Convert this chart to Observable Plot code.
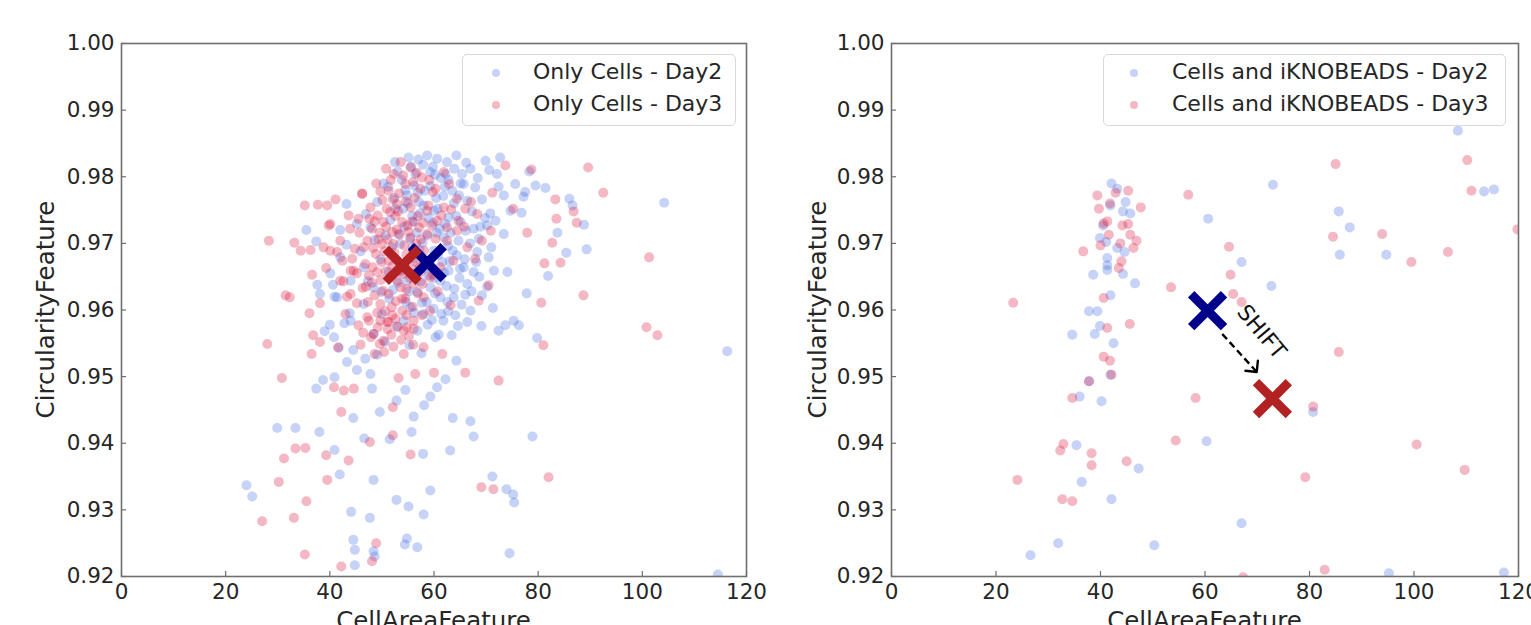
<!DOCTYPE html>
<html>
<head>
<meta charset="utf-8">
<script src="https://cdn.jsdelivr.net/npm/d3@7"></script>
<script src="https://cdn.jsdelivr.net/npm/@observablehq/plot@0.6"></script>
<style>
  html, body { margin: 0; padding: 0; background: #ffffff; }
  #wrap { position: relative; width: 1531px; height: 625px; overflow: hidden; background: #fff;
          font-family: "DejaVu Sans", sans-serif; color: #262626; }
  .panel { position: absolute; top: 0; }
  .legend { position: absolute; box-sizing: border-box; border: 1px solid #d9d9d9; border-radius: 5px;
            background: rgba(255,255,255,0.85); font-size: 22px; }
  .legend .row { position: absolute; left: 0; white-space: nowrap; }
  .legend .sw { position: absolute; width: 8px; height: 8px; border-radius: 50%; }
  #overlay { position: absolute; left: 0; top: 0; pointer-events: none; }
</style>
</head>
<body>
<div id="wrap"></div>
<script>
// ---------------- data ----------------
const xTicks = [0, 20, 40, 60, 80, 100, 120];
const yTicks = [0.92, 0.93, 0.94, 0.95, 0.96, 0.97, 0.98, 0.99, 1.00];
const xTitle = "CellAreaFeature";
const yTitle = "CircularityFeature";

const leftLegend = ["Only Cells - Day2", "Only Cells - Day3"];
const rightLegend = ["Cells and iKNOBEADS - Day2", "Cells and iKNOBEADS - Day3"];
const seriesColors = ["#4169e1", "#dc143c"];
const meanColors = ["#00008b", "#b22222"];

// Only Cells - Day2 : [CellAreaFeature, CircularityFeature]
const onlyCellsDay2 = [
  [43.2,0.9759],[35.5,0.9720],[42.0,0.9720],[37.4,0.9703],[43.2,0.9698],[42.0,0.9679],[40.1,0.9655],[40.6,0.9638],
  [37.6,0.9638],[38.1,0.9624],[40.9,0.9620],[43.8,0.9595],[50.3,0.9790],[39.0,0.9568],[40.0,0.9578],[40.8,0.9559],
  [41.7,0.9543],[42.8,0.9580],[44.5,0.9540],[46.8,0.9527],[49.1,0.9533],[43.3,0.9522],[45.2,0.9510],[38.7,0.9495],
  [40.9,0.9499],[37.4,0.9482],[48.1,0.9482],[47.8,0.9504],[52.8,0.9464],[54.5,0.9480],[56.1,0.9440],[55.7,0.9417],
  [49.6,0.9447],[44.5,0.9438],[29.9,0.9423],[33.4,0.9423],[38.0,0.9417],[40.9,0.9390],[24.0,0.9337],[25.1,0.9320],
  [41.9,0.9353],[48.4,0.9345],[52.8,0.9315],[55.1,0.9305],[58.0,0.9293],[59.3,0.9329],[44.1,0.9297],[47.7,0.9288],
  [44.5,0.9255],[44.8,0.9240],[48.4,0.9238],[48.6,0.9230],[44.8,0.9217],[54.4,0.9248],[54.8,0.9257],[56.8,0.9244],
  [60.6,0.9484],[59.3,0.9470],[60.3,0.9559],[63.1,0.9389],
  [72.4,0.9785],[70.8,0.9745],[71.0,0.9694],[79.5,0.9787],[77.2,0.9770],[86.0,0.9767],[86.6,0.9757],[89.3,0.9691],
  [85.4,0.9686],[104.2,0.9761],[116.3,0.9538],[114.5,0.9203],[78.9,0.9410],[73.9,0.9331],[75.2,0.9323],[75.4,0.9311],
  [74.5,0.9235],[70.2,0.9635],[67.6,0.9410],[67.0,0.9433],[71.2,0.9350],[67.6,0.9722],[68.7,0.9650],
  [55.1,0.9829],[58.7,0.9832],[60.6,0.9827],[62.5,0.9822],[64.3,0.9832],[67.0,0.9812],[69.9,0.9824],[72.7,0.9829],
  [72.1,0.9804],[75.6,0.9789],[77.5,0.9777],[67.9,0.9784],[69.2,0.9766],[73.4,0.9772],[74.7,0.9749],[71.8,0.9734],
  [70.2,0.9727],[73.4,0.9714],[68.6,0.9707],[70.5,0.9679],[68.3,0.9687],[65.7,0.9664],[67.6,0.9657],[71.5,0.9659],
  [66.4,0.9639],[69.2,0.9622],[63.8,0.9619],[67.0,0.9599],[64.1,0.9592],[61.8,0.9584],[66.4,0.9582],[73.7,0.9577],
  [75.3,0.9584],[76.3,0.9577],[72.4,0.9569],[49.1,0.9762],[47.8,0.9724],[56.4,0.9804],[59.3,0.9807],[62.2,0.9804],
  [65.4,0.9804],[65.7,0.9789],[63.5,0.9779],[66.4,0.9764],[54.8,0.9772],[57.1,0.9762],[60.0,0.9749],[62.8,0.9739],
  [65.1,0.9732],[56.1,0.9732],[53.2,0.9714],[58.7,0.9712],[61.9,0.9709],[64.7,0.9704],[64.4,0.9682],[61.2,0.9644],
  [59.3,0.9634],[56.8,0.9627],[61.2,0.9619],[55.5,0.9604],[58.0,0.9594],[56.8,0.9569],[54.2,0.9584],[50.0,0.9594],
  [46.5,0.9609],[44.0,0.9584],[48.4,0.9564],[51.3,0.9657],[48.4,0.9634],[46.5,0.9664],[44.0,0.9644],[41.4,0.9619],
  [45.2,0.9729],[60.0,0.9689],[57.4,0.9682],[62.8,0.9659],[54.8,0.9644],
  [52.5,0.9822],[57.0,0.9826],[59.8,0.9815],[61.3,0.9798],[63.9,0.9812],[66.2,0.9821],[68.4,0.9798],[70.6,0.9810],
  [53.8,0.9795],[56.2,0.9787],[58.2,0.9779],[60.4,0.9768],[62.1,0.9785],[64.8,0.9772],[67.3,0.9748],[69.8,0.9738],
  [52.4,0.9768],[54.1,0.9752],[55.8,0.9741],[58.9,0.9738],[61.1,0.9722],[63.2,0.9716],[66.1,0.9719],[68.9,0.9725],
  [51.6,0.9735],[53.5,0.9699],[55.9,0.9694],[57.8,0.9701],[59.5,0.9677],[61.6,0.9672],[63.6,0.9689],[65.9,0.9676],
  [52.8,0.9676],[54.6,0.9668],[56.3,0.9655],[58.3,0.9662],[60.1,0.9648],[62.4,0.9636],[64.9,0.9648],[67.2,0.9628],
  [53.1,0.9641],[55.2,0.9628],[57.7,0.9611],[59.9,0.9602],[62.7,0.9598],[65.3,0.9608],[51.4,0.9617],[52.9,0.9575],
  [58.8,0.9578],[60.9,0.9563],[63.4,0.9562],[50.6,0.9552],[55.3,0.9547],[57.6,0.9535],[46.9,0.9744],[48.6,0.9705],
  [45.9,0.9688],[49.7,0.9676],[47.3,0.9643],[49.9,0.9627],[76.8,0.9746],[78.3,0.9808],[81.4,0.9783],[83.7,0.9716],
  [88.8,0.9728],[81.9,0.9651],[74.1,0.9657],[77.8,0.9625],[71.3,0.9603],[69.1,0.9576],[79.8,0.9558],[64.3,0.9524],
  [62.2,0.9496],[58.1,0.9457],[63.6,0.9438],[51.5,0.9406],[46.6,0.9407],[57.9,0.9384],
  [53.0,0.9808],[55.6,0.9815],[57.9,0.9818],[60.2,0.9803],[62.8,0.9795],[65.1,0.9790],[54.5,0.9780],[56.9,0.9776],
  [59.3,0.9786],[61.8,0.9771],[63.8,0.9760],[58.0,0.9757],[60.7,0.9752],[55.0,0.9760],[57.3,0.9745],[59.8,0.9731],
  [62.2,0.9729],[64.3,0.9741],[54.3,0.9725],[56.7,0.9716],[60.5,0.9716],[62.7,0.9696],[55.4,0.9707],[57.2,0.9690],
  [60.8,0.9683],[63.0,0.9673],[58.1,0.9674],[56.1,0.9677],[59.0,0.9652],[61.9,0.9656],[63.9,0.9632],[57.5,0.9643],
  [60.2,0.9625],[58.6,0.9612],[56.2,0.9596],[61.4,0.9594],[59.6,0.9585],[54.6,0.9612],[52.1,0.9630],[53.7,0.9658],
  [51.9,0.9694],[50.7,0.9712],[52.6,0.9752],[51.2,0.9785],[66.9,0.9700],[65.0,0.9662],[68.1,0.9672],[66.0,0.9623],
  [62.6,0.9612],[64.6,0.9576]
];

// Only Cells - Day3
const onlyCellsDay3 = [
  [28.3,0.9704],[35.2,0.9757],[39.5,0.9757],[39.8,0.9727],[34.4,0.9689],[36.3,0.9690],[38.8,0.9694],[43.6,0.9742],
  [45.5,0.9737],[46.2,0.9775],[42.4,0.9674],[36.6,0.9653],[32.3,0.9619],[38.1,0.9610],[36.1,0.9595],[44.0,0.9659],
  [42.6,0.9643],[28.0,0.9549],[36.8,0.9562],[36.5,0.9534],[38.1,0.9552],[41.6,0.9544],[30.8,0.9498],[40.8,0.9484],
  [42.7,0.9479],[44.6,0.9482],[31.2,0.9377],[33.4,0.9392],[35.3,0.9393],[39.3,0.9382],[43.6,0.9374],[47.7,0.9402],
  [52.1,0.9412],[55.5,0.9383],[30.2,0.9342],[39.5,0.9345],[35.5,0.9313],[27.0,0.9283],[33.1,0.9288],[35.2,0.9233],
  [42.2,0.9215],[48.1,0.9223],[48.9,0.9250],[52.1,0.9454],[53.2,0.9498],[48.6,0.9534],[54.2,0.9569],[56.0,0.9548],
  [58.0,0.9544],[60.0,0.9506],[56.4,0.9504],[61.6,0.9534],[43.3,0.9620],[45.2,0.9610],[47.5,0.9584],[49.7,0.9584],
  [51.0,0.9582],[48.4,0.9564],[50.3,0.9554],[56.1,0.9572],[54.2,0.9534],[52.0,0.9592],[42.2,0.9447],
  [73.7,0.9817],[78.7,0.9811],[83.3,0.9766],[86.8,0.9748],[87.4,0.9731],[89.6,0.9814],[92.5,0.9776],[83.5,0.9737],
  [82.7,0.9701],[84.3,0.9671],[88.7,0.9622],[80.6,0.9611],[81.0,0.9547],[101.3,0.9679],[100.8,0.9574],[102.9,0.9562],
  [82.0,0.9349],[72.4,0.9494],[69.1,0.9334],[71.4,0.9331],[66.0,0.9506],[81.2,0.9670],
  [52.3,0.9804],[55.5,0.9814],[54.5,0.9789],[57.7,0.9799],[61.9,0.9807],[51.3,0.9779],[46.2,0.9774],[52.9,0.9759],
  [51.6,0.9747],[55.5,0.9754],[58.7,0.9749],[61.9,0.9754],[64.4,0.9767],[66.0,0.9752],[68.3,0.9744],[50.3,0.9732],
  [53.9,0.9732],[57.1,0.9724],[60.6,0.9734],[52.0,0.9717],[55.5,0.9709],[58.7,0.9714],[48.1,0.9722],[47.2,0.9704],
  [50.0,0.9699],[62.5,0.9724],[48.8,0.9684],[51.3,0.9674],[49.1,0.9657],[46.8,0.9669],[57.4,0.9657],[56.1,0.9639],
  [53.6,0.9634],[51.3,0.9624],[54.5,0.9617],[58.0,0.9619],[49.7,0.9609],[53.9,0.9599],[57.7,0.9592],[47.2,0.9589],
  [51.3,0.9582],[54.8,0.9574],[45.5,0.9577],[43.0,0.9594],[44.0,0.9624],[42.0,0.9644],[42.0,0.9704],[44.6,0.9659],
  [44.3,0.9677],[64.7,0.9734],[64.4,0.9719],[66.4,0.9694],[69.2,0.9704],[62.5,0.9704],[61.2,0.9664],[59.3,0.9649],
  [70.5,0.9637],[67.9,0.9677],[47.8,0.9754],[40.1,0.9729],[40.1,0.9689],
  [50.8,0.9812],[53.6,0.9822],[56.7,0.9806],[59.1,0.9795],[48.9,0.9790],[50.1,0.9765],[53.3,0.9775],[56.3,0.9768],
  [59.8,0.9777],[62.9,0.9789],[49.2,0.9742],[52.6,0.9741],[54.9,0.9727],[56.9,0.9741],[59.6,0.9727],[61.4,0.9742],
  [63.3,0.9751],[49.6,0.9716],[51.1,0.9706],[53.4,0.9713],[56.6,0.9699],[58.1,0.9689],[60.3,0.9707],[48.3,0.9693],
  [50.5,0.9688],[52.4,0.9686],[54.7,0.9683],[56.5,0.9672],[59.1,0.9668],[47.5,0.9652],[49.8,0.9645],[51.9,0.9652],
  [53.3,0.9659],[55.4,0.9648],[57.8,0.9639],[46.3,0.9633],[48.6,0.9622],[52.7,0.9613],[55.9,0.9605],[50.6,0.9598],
  [52.6,0.9587],[56.1,0.9584],[46.4,0.9566],[49.2,0.9574],[51.8,0.9563],[53.7,0.9555],[45.9,0.9548],[50.4,0.9537],
  [44.8,0.9692],[45.7,0.9716],[43.9,0.9722],[41.4,0.9687],[39.3,0.9663],[46.9,0.9635],[37.7,0.9758],[41.1,0.9766],
  [33.2,0.9701],[31.5,0.9622],[65.8,0.9725],[67.1,0.9762],[70.9,0.9719],[63.7,0.9674],[60.7,0.9628],[63.2,0.9607],
  [68.6,0.9614],[75.2,0.9752],[77.9,0.9716],[71.2,0.9776],
  [51.7,0.9795],[54.1,0.9802],[56.0,0.9792],[49.7,0.9778],[52.1,0.9766],[54.6,0.9763],[57.4,0.9782],[50.9,0.9752],
  [53.1,0.9748],[55.8,0.9733],[48.6,0.9733],[50.8,0.9725],[52.9,0.9721],[55.1,0.9718],[57.9,0.9731],[49.3,0.9706],
  [52.2,0.9699],[54.3,0.9697],[56.0,0.9688],[57.5,0.9706],[49.9,0.9672],[52.0,0.9666],[54.1,0.9654],[55.9,0.9661],
  [57.3,0.9665],[48.2,0.9664],[50.7,0.9658],[52.9,0.9644],[54.7,0.9631],[56.9,0.9625],[48.1,0.9641],[50.2,0.9629],
  [51.9,0.9604],[53.9,0.9617],[47.3,0.9612],[49.1,0.9596],[54.7,0.9592],[51.1,0.9571],[53.0,0.9575],[55.2,0.9561],
  [47.9,0.9559],[49.6,0.9549],[52.2,0.9545],[45.2,0.9655],[46.5,0.9694],[47.6,0.9737],[58.9,0.9757],[60.3,0.9782],
  [59.8,0.9653],[59.2,0.9599]
];

// Cells and iKNOBEADS - Day2
const beadsDay2 = [
  [42.1,0.9790],[43.2,0.9782],[44.8,0.9762],[41.9,0.9757],[44.3,0.9748],[45.7,0.9745],[40.5,0.9727],[39.9,0.9708],
  [41.1,0.9702],[43.2,0.9693],[44.6,0.9687],[41.3,0.9678],[41.3,0.9667],[41.3,0.9660],[38.6,0.9653],[44.3,0.9654],
  [46.6,0.9640],[41.9,0.9622],[37.8,0.9598],[39.4,0.9598],[39.9,0.9576],[38.9,0.9564],[34.6,0.9563],[42.5,0.9550],
  [37.8,0.9493],[36.0,0.9470],[40.2,0.9463],[41.9,0.9503],[35.4,0.9397],[36.4,0.9342],[47.3,0.9362],[42.1,0.9316],
  [31.9,0.9250],[26.6,0.9232],[50.3,0.9247],[108.4,0.9869],[73.0,0.9788],[60.6,0.9737],[85.6,0.9748],[87.7,0.9724],
  [85.8,0.9683],[94.7,0.9683],[113.4,0.9778],[115.3,0.9781],[67.0,0.9672],[72.7,0.9636],[80.7,0.9447],[60.3,0.9403],
  [67.0,0.9280],[95.2,0.9205],[117.2,0.9206]
];

// Cells and iKNOBEADS - Day3
const beadsDay3 = [
  [39.4,0.9772],[42.9,0.9776],[45.3,0.9779],[41.8,0.9760],[39.7,0.9752],[47.7,0.9754],[41.3,0.9733],[40.6,0.9730],
  [44.2,0.9727],[45.3,0.9729],[41.6,0.9713],[40.0,0.9697],[45.7,0.9713],[46.9,0.9704],[43.8,0.9700],[46.3,0.9693],
  [36.7,0.9688],[44.0,0.9673],[43.5,0.9663],[23.3,0.9611],[40.6,0.9618],[41.3,0.9573],[45.6,0.9579],[40.6,0.9530],
  [41.8,0.9524],[37.8,0.9493],[42.1,0.9503],[34.6,0.9468],[32.9,0.9399],[32.3,0.9389],[38.3,0.9385],[38.3,0.9367],
  [45.0,0.9373],[24.1,0.9345],[32.7,0.9316],[34.6,0.9313],[54.4,0.9404],[53.5,0.9634],[85.0,0.9819],[110.2,0.9825],
  [111.0,0.9779],[56.8,0.9773],[84.5,0.9710],[93.9,0.9714],[106.5,0.9687],[99.5,0.9672],[64.6,0.9695],[64.9,0.9653],
  [65.4,0.9624],[67.0,0.9612],[85.6,0.9537],[119.8,0.9721],[58.2,0.9468],[80.7,0.9455],[100.5,0.9398],[109.7,0.9360],
  [79.2,0.9349],[82.9,0.9210],[67.3,0.9199]
];

// mean markers [x, y] : Day2 then Day3
const onlyCellsMeans = [[58.7, 0.9671], [53.9, 0.9667]];
const beadsMeans = [[60.5, 0.9599], [72.9, 0.9467]];

// shift annotation (right panel)
const shiftArrow = [[63.3, 0.9564], [69.9, 0.9507]];   // start, tip
const shiftLabel = [{x: 70.8, y: 0.9567, text: "SHIFT"}];

// ---------------- drawing ----------------
const H = 625, MT = 43, MB = 49;
const toObj = a => a.map(([x, y]) => ({x, y}));

function panel({width, marginLeft, marginRight, day2, day3, means, extras = []}) {
  const plotW = width - marginLeft - marginRight;
  const plotH = H - MT - MB;
  return Plot.plot({
    width, height: H, marginTop: MT, marginBottom: MB, marginLeft, marginRight,
    style: {fontFamily: '"DejaVu Sans", sans-serif', fontSize: "21.5px", color: "#262626",
            background: "transparent", overflow: "visible"},
    x: {domain: [0, 120]},
    y: {domain: [0.92, 1.0]},
    marks: [
      Plot.dot(toObj(day2), {x: "x", y: "y", r: 5, fill: seriesColors[0], fillOpacity: 0.3, clip: true}),
      Plot.dot(toObj(day3), {x: "x", y: "y", r: 5, fill: seriesColors[1], fillOpacity: 0.3, clip: true}),
      Plot.frame({stroke: "#6f6f6f", strokeWidth: 1.6}),
      Plot.tickX(xTicks, {x: d => d, insetTop: plotH - 5, stroke: "#6f6f6f", strokeWidth: 1.2}),
      Plot.tickY(yTicks, {y: d => d, insetRight: plotW - 5, stroke: "#6f6f6f", strokeWidth: 1.2}),
      Plot.axisX(xTicks, {tickSize: 0, tickPadding: 7, tickFormat: d => String(d), label: null, fill: "#262626"}),
      Plot.axisY(yTicks, {tickSize: 0, tickPadding: 7, tickFormat: d3.format(".2f"), label: null, fill: "#262626"}),
      ...extras,
      Plot.dot(toObj(means.slice(0, 1)), {x: "x", y: "y", symbol: "times", r: 15, stroke: meanColors[0], strokeWidth: 9}),
      Plot.dot(toObj(means.slice(1, 2)), {x: "x", y: "y", symbol: "times", r: 15, stroke: meanColors[1], strokeWidth: 9})
    ]
  });
}

const wrap = document.getElementById("wrap");

const left = panel({width: 765, marginLeft: 121, marginRight: 19,
  day2: onlyCellsDay2, day3: onlyCellsDay3, means: onlyCellsMeans});
left.classList.add("panel"); left.style.left = "0px";
wrap.appendChild(left);

const arrowHead = {
  draw(context, l) {
    const w = 8;
    context.moveTo(-w, w - l);
    context.lineTo(0, -l);
    context.lineTo(w, w - l);
  }
};

const right = panel({width: 766, marginLeft: 126, marginRight: 13,
  day2: beadsDay2, day3: beadsDay3, means: beadsMeans,
  extras: [
    Plot.link([shiftArrow], {x1: d => d[0][0], y1: d => d[0][1], x2: d => d[1][0], y2: d => d[1][1],
      stroke: "#000", strokeWidth: 2.4, strokeDasharray: "7,4"}),
    Plot.vector([shiftArrow[1]], {x: d => d[0], y: d => d[1], length: 14, rotate: 141, anchor: "end",
      shape: arrowHead, stroke: "#000", strokeWidth: 2.4, fill: "none"}),
    Plot.text(shiftLabel, {x: "x", y: "y", text: "text", rotate: 50, fontSize: 22, fill: "#111"})
  ]});
right.classList.add("panel"); right.style.left = "765px";
wrap.appendChild(right);

// legends
function legend(labels, box) {
  const div = document.createElement("div");
  div.className = "legend";
  Object.assign(div.style, {left: box.left + "px", top: box.top + "px", width: box.width + "px", height: box.height + "px"});
  labels.forEach((lab, i) => {
    const sw = document.createElement("div");
    sw.className = "sw";
    Object.assign(sw.style, {left: (box.swX - 4) + "px", top: (18 + i * 32 - 4) + "px",
      background: seriesColors[i], opacity: 0.3});
    div.appendChild(sw);
    const t = document.createElement("div");
    t.className = "row";
    t.textContent = lab;
    Object.assign(t.style, {left: box.textX + "px", top: (18 + i * 32 - 14) + "px", lineHeight: "26px"});
    div.appendChild(t);
  });
  wrap.appendChild(div);
}
legend(leftLegend, {left: 462, top: 54, width: 274, height: 72, swX: 33, textX: 70});
legend(rightLegend, {left: 1103, top: 54, width: 403, height: 72, swX: 30, textX: 68});

// axis titles
const ns = "http://www.w3.org/2000/svg";
const ov = document.createElementNS(ns, "svg");
ov.setAttribute("id", "overlay");
ov.setAttribute("width", 1531);
ov.setAttribute("height", 625);
function addText(str, x, y, rot) {
  const t = document.createElementNS(ns, "text");
  t.textContent = str;
  t.setAttribute("text-anchor", "middle");
  t.setAttribute("font-family", '"DejaVu Sans", sans-serif');
  t.setAttribute("font-size", "24.5");
  t.setAttribute("fill", "#262626");
  t.setAttribute("transform", `translate(${x},${y}) rotate(${rot})`);
  ov.appendChild(t);
}
addText(xTitle, 433.5, 629, 0);
addText(xTitle, 1204.5, 629, 0);
addText(yTitle, 54, 309.5, -90);
addText(yTitle, 826, 309.5, -90);
wrap.appendChild(ov);
</script>
</body>
</html>
